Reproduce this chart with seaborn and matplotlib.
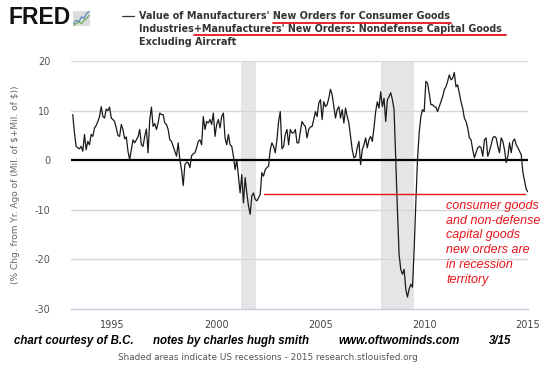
import pandas as pd
import matplotlib.pyplot as plt
import seaborn as sb
import numpy as np

# YoY % change, monthly, Jan 1993 .. Dec 2014
vals_a = [9.2, 5.5, 2.8, 2.5, 2.3, 2.8, 1.8, 5.2, 2.1, 3.8,
          3.1, 5.2, 4.8, 6.5, 7.0, 7.8, 8.8, 10.8, 8.8, 8.5,
          10.3, 10.0, 10.7, 8.5, 8.2, 7.8, 6.5, 5.0, 4.8, 7.2,
          6.2, 4.3, 4.7, 1.8, 0.1, 2.1, 4.1, 3.5, 4.1, 4.7,
          6.2, 3.1, 2.8, 4.8, 6.3, 1.5, 8.2, 10.7, 6.8, 7.4,
          6.2, 7.5, 9.5, 9.2, 9.2, 7.5, 7.2, 6.2, 4.1, 3.8,
          2.8, 1.8, 0.8, 3.5, 0.1, -1.9, -5.1, -0.9, -0.4, -0.5,
          -1.5, 0.9, 1.3, 1.5, 2.5, 3.8, 4.1, 3.1, 8.8, 6.2,
          7.8, 7.5, 8.2, 7.2, 9.5, 4.8, 7.2, 8.2, 6.5, 8.8,
          9.5, 4.5, 3.1, 5.2, 3.1, 2.8, 0.8, -1.9, 0.1, -3.2,
          -6.6, -2.9, -8.6, -3.5, -6.6, -9.2, -10.9, -7.2, -6.6, -7.9,
          -8.2, -7.6, -6.9, -2.5, -3.2, -1.9, -1.5, -1.2, 2.1, 3.5,
          2.8, 1.5, 4.1, 7.8, 9.8, 2.3, 2.8, 5.2, 6.2, 3.1,
          6.2, 5.5, 5.5, 6.2, 3.5, 3.5, 5.8, 7.8, 7.2, 6.8,
          4.5]
vals_b = [6.2, 6.7, 6.8, 8.2, 9.8, 8.8, 11.5, 12.2, 8.2, 11.8,
          10.8, 11.2, 12.5, 14.3, 13.2, 10.8, 8.5, 10.2, 10.8, 8.5,
          10.2, 7.5, 10.5, 8.8, 7.5, 4.8, 2.1, 0.5, 0.7, 2.5,
          3.8, -0.9, 2.1, 3.1, 4.5, 2.5, 4.1, 4.8, 3.8, 6.5,
          9.8, 11.8, 10.5, 13.8, 10.8, 12.5, 7.8, 12.2, 12.8, 13.6,
          12.2, 10.2, 0.0, -10.0, -19.0, -22.0, -23.0, -22.0, -26.0, -27.6,
          -26.0, -25.0, -25.6, -18.0, -8.6, 0.1, 5.5, 8.8, 10.2, 9.8,
          15.9, 15.5, 13.5, 11.2, 11.2, 10.8, 10.7, 9.8, 10.8, 11.8,
          12.8, 14.2, 14.8, 15.9, 17.2, 16.2, 16.5, 17.7, 14.8, 15.2,
          13.5, 11.8, 10.5, 8.5, 7.8, 6.5, 4.5, 4.1, 2.1, 0.5,
          1.5, 2.5, 2.8, 2.5, 0.8, 4.1, 4.5, 0.8, 1.8, 3.1,
          4.5, 4.8, 4.5, 2.8, 1.5, 4.5, 3.8, 2.1, -0.5, 0.8,
          3.5, 1.5, 3.8, 4.3, 3.1, 2.5, 1.8, 1.1, -2.5, -4.2,
          -5.9, -6.4]
values = vals_a + vals_b
dates = pd.date_range('1993-02-01', '2014-12-31', periods=len(values))

recessions = [('2001-03-01', '2001-11-30'), ('2007-12-01', '2009-06-30')]
year_ticks = [1995, 2000, 2005, 2010, 2015]
y_ticks = [20, 10, 0, -10, -20, -30]

red_level = -6.8
red_from, red_to = '2002-04-15', '2014-11-15'

note_lines = ["consumer goods", "and non-defense", "capital goods",
              "new orders are", "in recession", "territory"]
title1 = "Value of Manufacturers' New Orders for Consumer Goods"
title2 = "Industries+Manufacturers' New Orders: Nondefense Capital Goods"
title3 = "Excluding Aircraft"
ylabel = r"(% Chg. from Yr. Ago of (Mil. of \$+Mil. of \$))"

icon_blue = [1, 3, 2, 5, 4, 7, 8]
icon_green = [0, 1, 2, 1, 3, 4, 6]

df = pd.DataFrame({'date': dates, 'value': values})

sb.set_style('white')
plt.rcParams['font.family'] = ['DejaVu Sans']

W, H = 550, 365
def px(x, y):
    return x / W, 1 - y / H

fig = plt.figure(figsize=(5.5, 3.65), dpi=100)
ax = fig.add_axes([71 / W, 1 - 309 / H, (528 - 71) / W, (309 - 61) / H])

for a, b in recessions:
    ax.axvspan(pd.Timestamp(a), pd.Timestamp(b), color='#e5e5e5', lw=0, zorder=0)

for v in [20, 10, -10, -20]:
    ax.axhline(v, color='#d6d6d6', lw=1, zorder=1)
ax.axhline(0, color='black', lw=1.6, zorder=2)

sb.lineplot(data=df, x='date', y='value', ax=ax, color='#1a1a1a', linewidth=0.9, zorder=3)

ax.plot([pd.Timestamp(red_from), pd.Timestamp(red_to)], [red_level, red_level],
        color='#e8141c', lw=1, zorder=4)

ax.set_xlim(pd.Timestamp('1993-01-01'), pd.Timestamp('2015-01-01'))
ax.set_ylim(-30, 20)
ax.set_xticks([pd.Timestamp(f'{y}-01-01') for y in year_ticks])
ax.set_xticklabels([str(y) for y in year_ticks])
ax.set_yticks(y_ticks)
ax.set_yticklabels([str(v) for v in y_ticks])
ax.set_xlabel('')
ax.set_ylabel(ylabel, fontsize=6.5, color='#666666')
ax.yaxis.set_label_coords(-(71 - 20) / (528 - 71), 0.5)

for s in ['top', 'right', 'left']:
    ax.spines[s].set_visible(False)
ax.spines['bottom'].set_color('#c3d0df')
ax.spines['bottom'].set_linewidth(1)
ax.tick_params(axis='x', colors='#c3d0df', length=5, width=1, labelsize=7, pad=3,
               labelcolor='#444444')
ax.tick_params(axis='y', length=0, labelsize=7, pad=15, labelcolor='#555555')

# header
fig.text(*px(8, 17), 'FRED', fontsize=16.5, fontweight='bold', family='Liberation Sans',
         va='center', ha='left', color='#111111')
iax = fig.add_axes([73 / W, 1 - 26 / H, 17 / W, 15 / H])
iax.set_facecolor('#dcdcdc')
iax.plot(icon_blue, color='#4a7fc1', lw=0.8)
iax.plot(icon_green, color='#6aa84f', lw=0.8)
iax.set_xticks([]); iax.set_yticks([])
for s in iax.spines.values():
    s.set_visible(False)

fig.add_artist(plt.Line2D([122 / W, 134 / W], [1 - 16 / H, 1 - 16 / H], color='#333333', lw=0.9))
tkw = dict(fontsize=6.9, fontweight='bold', color='#333333', va='center', ha='left')
t1 = fig.text(*px(139, 16), title1, **tkw)
t2 = fig.text(*px(139, 29), title2, **tkw)
t3 = fig.text(*px(139, 42), title3, **tkw)

fig.canvas.draw()
r = fig.canvas.get_renderer()
def width_of(s):
    t = fig.text(0, 0, s, **tkw)
    w = t.get_window_extent(r).width
    t.remove()
    return w

x0 = 139 + width_of("Value of Manufacturers' New") - width_of("New")
x1 = 139 + t1.get_window_extent(r).width
fig.add_artist(plt.Line2D([x0 / W, (x1 + 1) / W], [1 - 22.5 / H] * 2, color='#e8141c', lw=1.3))
x0 = 139 + width_of("Industries")
x1 = 139 + t2.get_window_extent(r).width
fig.add_artist(plt.Line2D([x0 / W, (x1 + 4) / W], [1 - 35 / H] * 2, color='#e8141c', lw=1.3))

# annotation
fig.text(*px(446, 200), "\n".join(note_lines), fontsize=9, style='italic',
         family='Liberation Sans', color='#e8141c', va='top', ha='left', linespacing=1.3)

# footer
fkw = dict(fontsize=8.3, style='italic', fontweight='bold', family='Liberation Sans',
           color='black', va='center', ha='left')
fig.text(*px(14, 341), "chart courtesy of B.C.", **fkw)
fig.text(*px(153, 341), "notes by charles hugh smith", **fkw)
fig.text(*px(338, 341), "www.oftwominds.com", **fkw)
fig.text(*px(489, 341), "3/15", **fkw)
fig.text(*px(268, 357), "Shaded areas indicate US recessions - 2015 research.stlouisfed.org",
         fontsize=6.4, color='#555555', ha='center', va='center')

fig.savefig('out.png', dpi=100)
